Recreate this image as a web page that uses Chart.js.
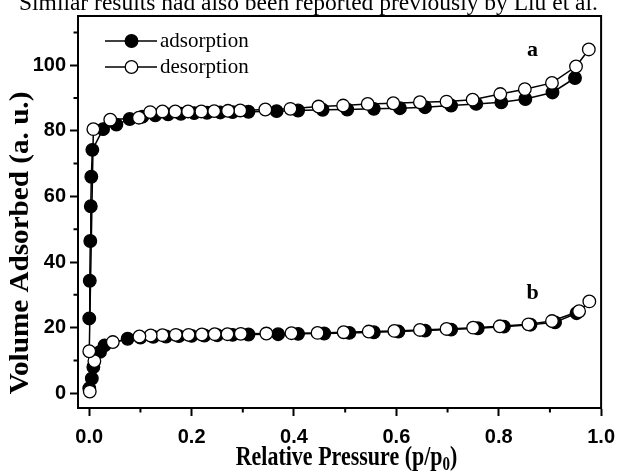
<!DOCTYPE html>
<html>
<head>
<meta charset="utf-8">
<script src="https://cdn.jsdelivr.net/npm/chart.js@4.4.0/dist/chart.umd.min.js"></script>
<style>
  html, body { margin: 0; padding: 0; background: #fff; }
  #wrap { position: relative; width: 624px; height: 471px; overflow: hidden; }
  #topline { position: absolute; left: 19px; top: -10px; font: 23.5px/24px "Liberation Serif", serif; white-space: nowrap; color: #000; }
  canvas { position: absolute; left: 0; top: 0; }
</style>
</head>
<body>
<div id="wrap">
  <canvas id="iso" width="624" height="471"></canvas>
  <div id="topline">Similar results had also been reported previously by Liu et al.</div>
</div>
<script>
// sample a: adsorption / desorption branches
const adsA_x = [0.000, 0.001, 0.002, 0.003, 0.004, 0.006, 0.027, 0.053, 0.079, 0.104, 0.129, 0.154, 0.179, 0.205, 0.230, 0.256, 0.280, 0.311, 0.366, 0.408, 0.456, 0.504, 0.556, 0.607, 0.656, 0.707, 0.756, 0.805, 0.852, 0.905, 0.949];
const adsA_y = [22.8, 34.3, 46.4, 57.0, 66.0, 74.2, 80.5, 81.9, 83.6, 84.3, 84.7, 85.0, 85.2, 85.4, 85.5, 85.6, 85.7, 85.8, 86.0, 86.2, 86.4, 86.5, 86.7, 86.9, 87.2, 87.7, 88.2, 88.7, 89.7, 91.7, 96.1];
const desA_x = [0.976, 0.951, 0.904, 0.851, 0.803, 0.749, 0.698, 0.646, 0.594, 0.544, 0.496, 0.448, 0.393, 0.344, 0.295, 0.271, 0.244, 0.219, 0.193, 0.168, 0.143, 0.119, 0.097, 0.041, 0.008, 0.000];
const desA_y = [104.8, 99.6, 94.6, 92.7, 91.2, 89.5, 88.9, 88.7, 88.4, 88.2, 87.7, 87.4, 86.7, 86.5, 86.2, 86.1, 86.0, 85.9, 85.9, 85.9, 85.9, 85.7, 84.0, 83.4, 80.5, 12.8];

// sample b
const adsB_x = [0.000, 0.005, 0.008, 0.021, 0.030, 0.075, 0.100, 0.125, 0.150, 0.175, 0.200, 0.225, 0.250, 0.280, 0.311, 0.369, 0.408, 0.459, 0.508, 0.556, 0.604, 0.656, 0.707, 0.759, 0.810, 0.862, 0.910, 0.952];
const adsB_y = [1.5, 4.5, 8.0, 12.6, 14.6, 16.6, 17.0, 17.2, 17.3, 17.4, 17.5, 17.6, 17.7, 17.8, 17.9, 18.0, 18.1, 18.2, 18.4, 18.6, 18.8, 19.1, 19.4, 19.8, 20.3, 20.9, 21.6, 24.4];
const desB_x = [0.977, 0.957, 0.904, 0.858, 0.802, 0.750, 0.698, 0.646, 0.596, 0.546, 0.497, 0.446, 0.395, 0.346, 0.296, 0.270, 0.245, 0.220, 0.194, 0.169, 0.143, 0.120, 0.098, 0.046, 0.010, 0.001];
const desB_y = [28.0, 25.0, 22.0, 21.0, 20.4, 20.0, 19.6, 19.3, 19.0, 18.8, 18.6, 18.4, 18.3, 18.2, 18.1, 18.0, 18.0, 17.9, 17.8, 17.8, 17.7, 17.6, 17.3, 15.6, 9.8, 0.5];

const xTicks = [0, 0.2, 0.4, 0.6, 0.8, 1.0];
const yTicks = [0, 20, 40, 60, 80, 100];
const legendNames = ['adsorption', 'desorption'];
const curveLabels = [{ text: 'a', x: 0.866, y: 104.4 }, { text: 'b', x: 0.866, y: 30.5 }];

const pts = (xs, ys) => xs.map((x, i) => ({ x: x, y: ys[i] }));

function series(data, filled, order) {
    return {
        data: data,
        borderColor: '#000',
        borderWidth: 1.5,
        pointRadius: 6.3,
        pointBorderWidth: 1.3,
        pointBorderColor: '#000',
        pointBackgroundColor: filled ? '#000' : '#fff',
        tension: 0,
        order: order
    };
}

const isMajor = (v, step) => Math.abs(v / step - Math.round(v / step)) < 1e-6;

// draw text stretched vertically around its baseline
function tallText(ctx, txt, x, y, k) {
    ctx.save();
    ctx.translate(x, y);
    ctx.scale(1, k);
    ctx.fillText(txt, 0, 0);
    ctx.restore();
}

// frame, minor ticks, legend, labels and axis titles
const decor = {
    id: 'decor',
    afterDraw(chart) {
        const ctx = chart.ctx;
        const a = chart.chartArea;
        const xs = chart.scales.x, ys = chart.scales.y;
        ctx.save();
        ctx.strokeStyle = '#000';
        ctx.lineWidth = 2;
        ctx.strokeRect(a.left, a.top, a.right - a.left, a.bottom - a.top);

        // minor ticks
        ctx.beginPath();
        xs.ticks.forEach(t => {
            if (isMajor(t.value, 0.2)) return;
            const px = xs.getPixelForValue(t.value);
            ctx.moveTo(px, a.bottom); ctx.lineTo(px, a.bottom + 4.5);
        });
        ys.ticks.forEach(t => {
            if (isMajor(t.value, 20)) return;
            const py = ys.getPixelForValue(t.value);
            ctx.moveTo(a.left, py); ctx.lineTo(a.left - 4.5, py);
        });
        ctx.stroke();

        // legend
        const lx0 = 105, lx1 = 157, lxm = 131.5;
        [41, 67].forEach((ly, i) => {
            ctx.lineWidth = 1.5;
            ctx.beginPath(); ctx.moveTo(lx0, ly); ctx.lineTo(lx1, ly); ctx.stroke();
            ctx.beginPath(); ctx.arc(lxm, ly, 6.3, 0, Math.PI * 2);
            ctx.fillStyle = i === 0 ? '#000' : '#fff';
            ctx.fill(); ctx.lineWidth = 1.3; ctx.stroke();
            ctx.fillStyle = '#000';
            ctx.font = '21px "Liberation Serif"';
            ctx.textAlign = 'left'; ctx.textBaseline = 'middle';
            ctx.fillText(legendNames[i], 160, ly);
        });

        // curve labels a / b
        ctx.font = 'bold 22px "Liberation Serif"';
        ctx.textAlign = 'center'; ctx.textBaseline = 'middle';
        curveLabels.forEach(c => ctx.fillText(c.text, xs.getPixelForValue(c.x), ys.getPixelForValue(c.y)));

        // y title
        ctx.save();
        ctx.translate(21, 243);
        ctx.rotate(-Math.PI / 2);
        ctx.scale(1.08, 1);
        ctx.font = 'bold 27px "Liberation Serif"';
        ctx.textAlign = 'center'; ctx.textBaseline = 'middle';
        ctx.fillText('Volume Adsorbed (a. u.)', 0, 0);
        ctx.restore();

        // x title with subscript
        const main = 'Relative Pressure (p/p', sub = '0', tail = ')';
        ctx.font = 'bold 22px "Liberation Serif"';
        const w1 = ctx.measureText(main).width, w3 = ctx.measureText(tail).width;
        ctx.font = 'bold 15px "Liberation Serif"';
        const w2 = ctx.measureText(sub).width;
        const x0 = (a.left + a.right) / 2 - (w1 + w2 + w3) / 2 + 7;
        const base = 465;
        ctx.textAlign = 'left'; ctx.textBaseline = 'alphabetic';
        ctx.font = 'bold 22px "Liberation Serif"';
        tallText(ctx, main, x0, base, 1.2);
        ctx.font = 'bold 15px "Liberation Serif"';
        tallText(ctx, sub, x0 + w1, base + 5, 1.2);
        ctx.font = 'bold 22px "Liberation Serif"';
        tallText(ctx, tail, x0 + w1 + w2, base, 1.2);
        ctx.restore();
    }
};

new Chart(document.getElementById('iso').getContext('2d'), {
    type: 'line',
    data: {
        datasets: [
            series(pts(adsA_x, adsA_y), true, 1),
            series(pts(desA_x, desA_y), false, 0),
            series(pts(adsB_x, adsB_y), true, 1),
            series(pts(desB_x, desB_y), false, 0)
        ]
    },
    options: {
        responsive: false,
        animation: false,
        devicePixelRatio: 1,
        layout: { padding: { left: 0, top: 14, right: 16, bottom: 0 } },
        plugins: { legend: { display: false }, tooltip: { enabled: false } },
        scales: {
            x: {
                type: 'linear',
                min: -0.022,
                max: 1.0,
                afterFit(s) { s.height = 63; },
                border: { color: '#000', width: 2 },
                grid: {
                    drawOnChartArea: false,
                    tickLength: 8,
                    tickWidth: 2,
                    tickColor: c => (c.tick && isMajor(c.tick.value, 0.2)) ? '#000' : 'rgba(0,0,0,0)'
                },
                ticks: {
                    stepSize: 0.1,
                    includeBounds: false,
                    autoSkip: false,
                    maxRotation: 0,
                    padding: 9,
                    color: '#000',
                    font: { family: 'Liberation Sans', weight: 'bold', size: 20 },
                    callback: v => xTicks.some(t => Math.abs(t - v) < 1e-6) ? v.toFixed(1) : ''
                }
            },
            y: {
                type: 'linear',
                min: -4.5,
                max: 115,
                afterFit(s) { s.width = 78; },
                border: { color: '#000', width: 2 },
                grid: {
                    drawOnChartArea: false,
                    tickLength: 8,
                    tickWidth: 2,
                    tickColor: c => (c.tick && isMajor(c.tick.value, 20)) ? '#000' : 'rgba(0,0,0,0)'
                },
                ticks: {
                    stepSize: 10,
                    includeBounds: false,
                    autoSkip: false,
                    padding: 4,
                    color: '#000',
                    font: { family: 'Liberation Sans', weight: 'bold', size: 20 },
                    callback: v => yTicks.includes(Math.round(v)) && isMajor(v, 20) ? String(Math.round(v)) : ''
                }
            }
        }
    },
    plugins: [decor]
});
</script>
</body>
</html>
